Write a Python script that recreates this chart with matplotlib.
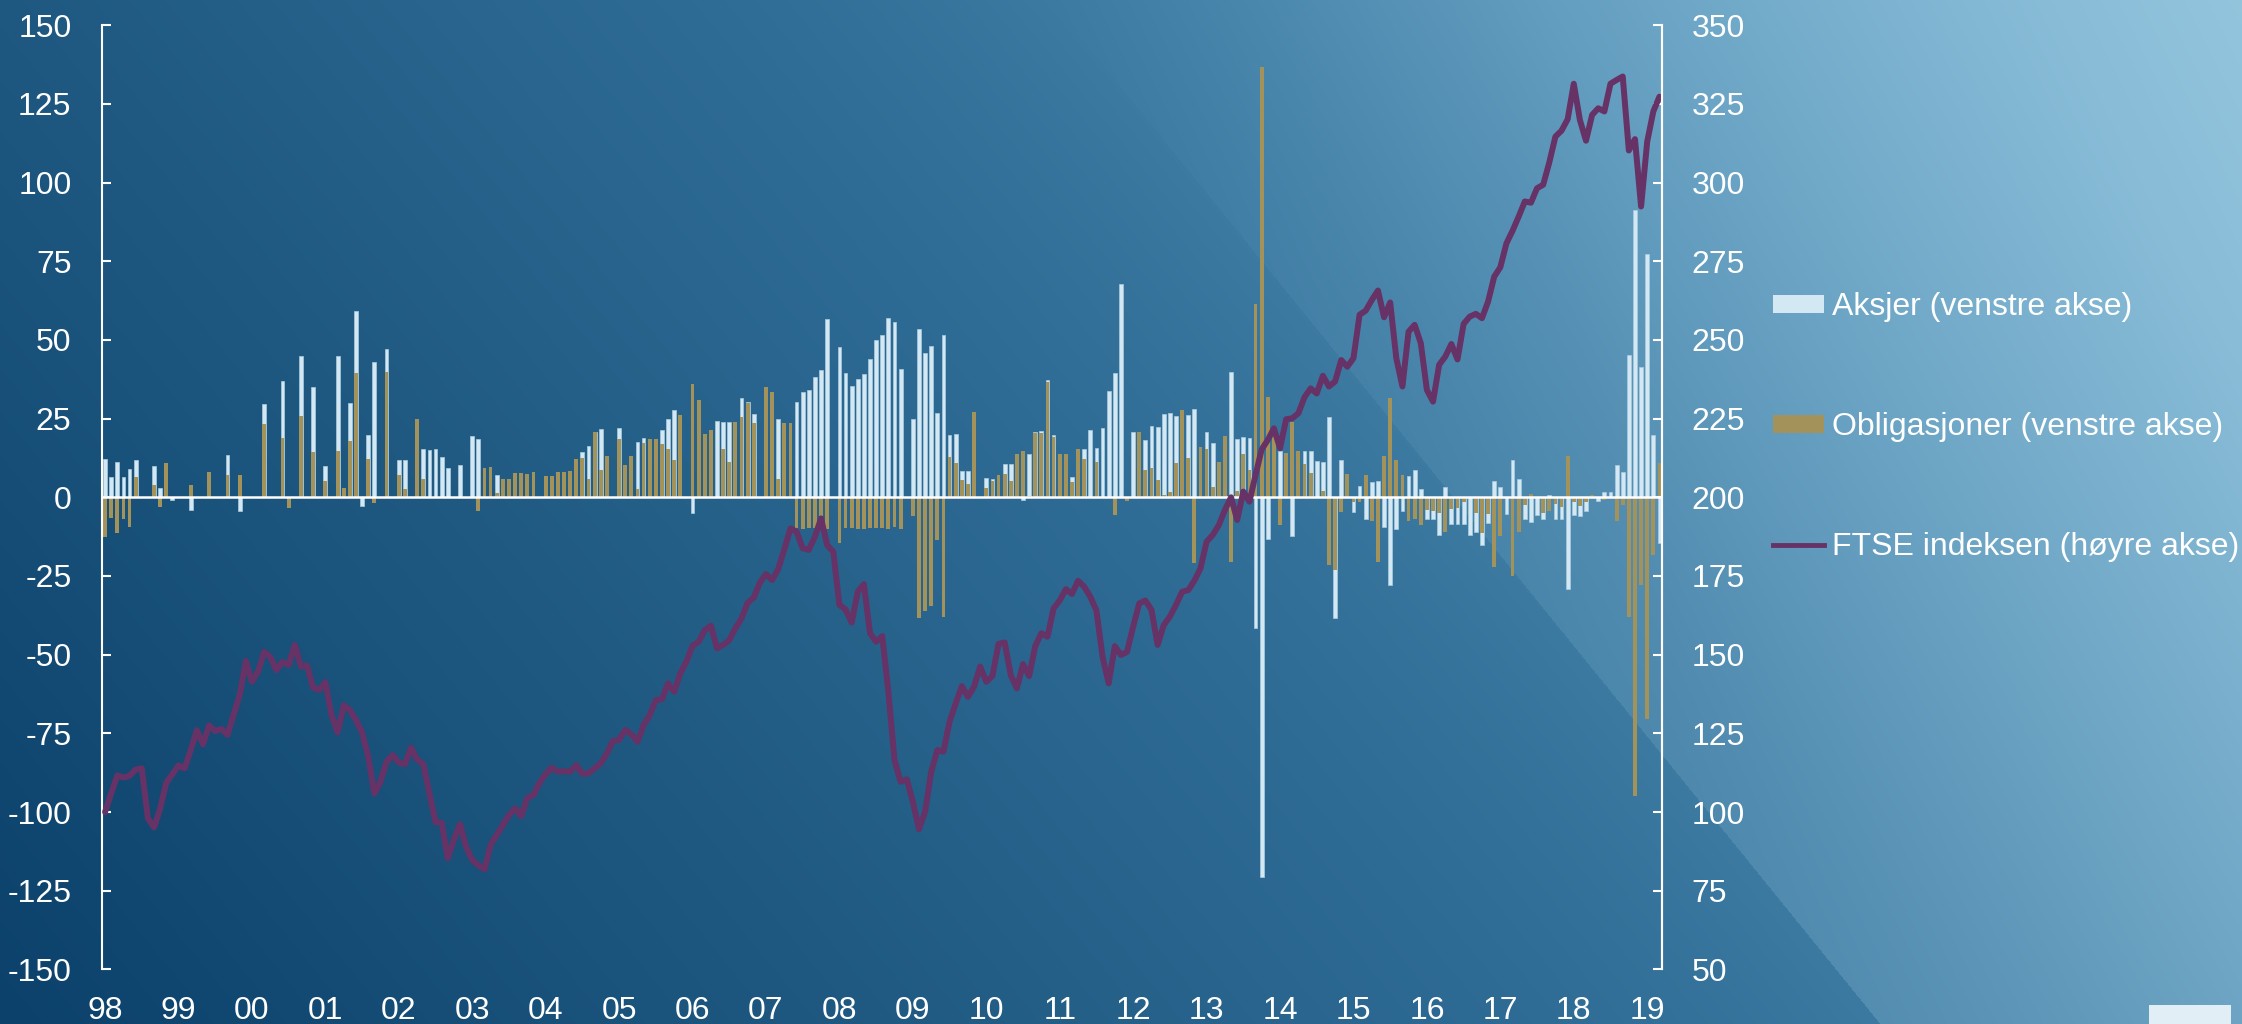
import numpy as np
import matplotlib
matplotlib.use("Agg")
import matplotlib.pyplot as plt
from matplotlib.patches import Patch, Rectangle
from matplotlib.lines import Line2D

plt.rcParams['font.family'] = ['Liberation Sans', 'DejaVu Sans']
plt.rcParams['axes.unicode_minus'] = False

# monthly data, Jan 1998 - Mar 2019 (one row per year)
years = ['98', '99', '00', '01', '02', '03', '04', '05', '06', '07', '08',
         '09', '10', '11', '12', '13', '14', '15', '16', '17', '18', '19']

aksjer = [
    12.2, 6.4, 11.1, 6.6, 9.1, 11.8, 0, 0, 9.9, 2.9, 0, -0.8,
    0, 0, -4.0, 0, 0, 0, 0, 0, 13.3, 0, -4.2, 0,
    0, 0, 29.8, 0, 0, 36.9, 0, 0, 44.9, 0, 35.0, 0,
    9.9, 0, 45.0, 0, 29.9, 59.1, -2.8, 19.8, 42.9, 0, 47.0, 0,
    12.0, 11.7, 0, 0, 15.5, 15.1, 15.4, 12.8, 9.4, 0, 10.2, 0,
    19.6, 18.4, 0, 0, 7.0, 0, 0, 0, 0, 0, 0, 0,
    0, 0, 0, 0, 0, 0, 14.5, 16.4, 20.7, 21.6, 0, 0,
    21.9, 0, 0, 17.5, 18.8, 0, 0, 21.5, 24.8, 27.6, 0, 0,
    -5.1, 0, 0, 0, 24.2, 23.8, 23.8, 0, 31.4, 30.2, 26.4, 0,
    0, 0, 24.8, 0, 0, 30.2, 33.3, 34.0, 38.1, 40.4, 56.6, 0,
    47.7, 39.6, 35.3, 37.5, 39.3, 43.8, 50.1, 51.5, 56.9, 55.6, 40.7, 0,
    25.0, 53.4, 46.0, 48.0, 26.9, 51.5, 19.9, 20.2, 8.3, 8.5, 0, 0,
    6.0, 5.9, 0, 10.6, 10.6, 0, -0.8, 13.9, 20.8, 21.0, 37.4, 19.7,
    0, 0, 6.6, 0, 15.5, 21.5, 15.8, 22.1, 33.8, 39.6, 67.8, 0,
    20.9, 0, 18.1, 22.8, 22.4, 26.6, 26.7, 25.8, 0, 26.2, 27.9, 0,
    20.7, 17.2, 0, 0, 39.8, 18.5, 19.1, 19.0, -41.4, -120.5, -13.2, 0,
    14.6, 0, -12.4, 0, 14.6, 14.8, 11.4, 11.1, 25.4, -38.2, 11.9, 0,
    -4.8, 3.6, -6.9, 4.8, 5.3, -9.3, -27.8, -10.2, -4.2, 6.7, 8.8, 2.5,
    -6.8, -7.0, -11.9, 3.2, -8.4, -8.4, -8.4, -11.9, -11.1, -15.3, -8.3, 5.1,
    3.4, -5.4, 11.9, 5.7, -6.9, -7.7, -5.7, -7.0, 0.8, -7.0, -7.0, -29.0,
    -5.5, -5.9, -4.4, 0, -1.1, 1.7, 1.7, 10.2, 8.1, 45.1, 91.2, 41.3,
    77.2, 19.8, -14.6,
]

obligasjoner = [
    -12.5, -6.6, -11.4, -6.8, -9.4, 6.4, 0, 0, 4.0, -3.0, 10.9, 0,
    0, 0, 3.8, 0, 0, 7.9, 0, 0, 7.0, 0, 7.0, 0,
    0, 0, 23.3, 0, 0, 18.9, -3.3, 0, 25.8, 0, 14.3, 0,
    5.1, 0, 14.7, 2.9, 17.9, 39.5, 0, 12.2, -1.7, 0, 39.8, 0,
    7.0, 2.6, 0, 24.8, 5.7, 0, 0, 0, 0, 0, 0, 0,
    0, -4.2, 9.2, 9.7, 1.3, 5.8, 5.7, 7.8, 7.8, 7.3, 7.9, 0,
    6.8, 6.8, 7.9, 7.9, 8.2, 12.2, 12.6, 5.8, 20.6, 8.7, 13.2, 0,
    18.4, 10.3, 13.2, 2.5, 17.3, 18.4, 18.6, 16.9, 15.5, 11.9, 26.3, 0,
    36.0, 30.9, 20.1, 21.3, 0, 15.3, 11.2, 23.9, 25.5, 30.0, 23.5, 0,
    35.0, 33.3, 5.7, 23.5, 23.5, -9.9, -10.2, -9.9, -9.9, -9.9, -10.2, 0,
    -14.6, -9.9, -9.9, -10.2, -10.2, -9.9, -9.9, -9.9, -10.2, -9.5, -10.2, 0,
    -5.9, -38.2, -36.1, -34.5, -13.7, -37.9, 12.8, 11.0, 5.5, 4.3, 27.2, 0,
    3.0, 5.2, 7.0, 7.5, 5.2, 13.9, 14.6, 0.5, 20.4, 20.4, 36.7, 19.1,
    13.7, 13.7, 4.9, 15.5, 12.1, 0, 11.2, 0, 0, -5.6, 0, -1.1,
    0, 20.7, 8.6, 9.2, 5.5, 0.7, 1.8, 10.9, 27.6, 12.4, -21.0, 16.1,
    15.3, 3.2, 11.2, 19.6, -20.4, 1.9, 13.8, 8.7, 61.4, 136.7, 31.8, 22.8,
    -8.8, 14.1, 23.8, 14.6, 10.5, 7.6, 0, 2.0, -21.6, -23.1, -4.6, 7.4,
    -1.4, -1.6, 7.0, -7.4, -20.4, 13.1, 31.6, 11.9, 7.1, -7.6, -6.9, -8.7,
    -4.0, -4.5, -5.1, -10.9, -3.6, -3.5, -1.5, 0, -4.9, -11.4, -5.4, -22.0,
    -12.3, 0, -24.9, -11.1, -2.5, 1.0, 0, -5.1, -4.2, -2.0, -3.0, 13.2,
    -1.5, -2.8, -1.4, 0.6, 0, -0.8, 0, -7.4, -2.5, -38.1, -95.0, -28.0,
    -70.5, -18.3, 11.0,
]

ftse = [
    100.0, 105.9, 111.6, 111.0, 111.5, 113.5, 113.9, 98.0, 95.1, 101.1, 109.3, 112.0,
    114.8, 113.9, 119.7, 126.0, 121.5, 127.5, 125.7, 126.4, 124.5, 130.8, 137.2, 148.0,
    141.4, 144.6, 150.9, 149.3, 145.1, 147.7, 146.7, 153.1, 146.2, 146.6, 139.5, 138.8,
    141.3, 130.8, 125.3, 133.9, 132.4, 129.2, 125.2, 117.6, 105.9, 109.6, 116.0, 118.1,
    115.7, 115.2, 120.5, 116.7, 115.2, 105.9, 96.8, 96.6, 85.3, 91.1, 96.2, 89.0,
    84.7, 83.1, 81.8, 89.5, 92.7, 95.9, 99.0, 101.2, 98.7, 104.5, 105.4, 109.3,
    112.1, 114.1, 112.8, 113.0, 112.8, 114.9, 112.1, 112.3, 113.9, 115.5, 118.6, 122.6,
    122.9, 126.1, 124.7, 122.3, 127.6, 130.8, 135.6, 135.8, 140.9, 138.2, 144.1, 147.8,
    152.8, 154.1, 157.8, 159.2, 152.0, 153.1, 154.6, 158.4, 161.5, 166.5, 168.1, 172.9,
    175.6, 173.7, 177.2, 183.5, 190.1, 189.1, 183.8, 183.3, 187.5, 193.3, 184.8, 182.7,
    165.8, 164.4, 160.2, 170.0, 172.4, 156.8, 154.1, 155.9, 138.2, 116.5, 109.6, 110.4,
    103.3, 94.5, 100.1, 112.8, 119.7, 119.2, 128.7, 134.5, 140.0, 136.6, 139.8, 146.2,
    141.4, 143.2, 153.4, 153.9, 143.5, 139.3, 147.0, 143.2, 152.7, 156.8, 155.7, 164.7,
    167.2, 170.8, 169.3, 173.5, 171.6, 168.4, 164.0, 149.3, 140.9, 152.7, 149.9, 150.9,
    158.9, 166.3, 167.2, 164.2, 153.1, 159.4, 162.1, 165.8, 170.0, 170.5, 173.5, 177.4,
    185.9, 188.0, 191.2, 196.0, 200.0, 192.8, 201.8, 198.6, 207.1, 215.2, 218.2, 221.9,
    215.6, 224.8, 225.1, 226.7, 231.8, 234.6, 233.0, 238.6, 235.2, 236.8, 243.6, 241.5,
    244.2, 258.0, 259.3, 262.7, 265.7, 257.2, 261.9, 244.2, 235.2, 252.6, 254.8, 249.0,
    234.1, 230.4, 242.1, 244.7, 248.7, 243.8, 255.1, 257.4, 258.3, 256.9, 262.2, 270.1,
    273.1, 280.7, 284.7, 289.2, 294.0, 293.6, 298.2, 299.3, 306.4, 314.6, 316.5, 320.1,
    331.4, 319.9, 313.3, 321.5, 323.6, 322.6, 331.4, 332.6, 333.7, 310.2, 313.8, 292.4,
    313.0, 322.6, 327.3,
]

labels = ['Aksjer (venstre akse)', 'Obligasjoner (venstre akse)', 'FTSE indeksen (høyre akse)']

WHITE_BAR = '#d4e8f4'
GOLD = '#a3925a'
PURPLE = '#673266'

W, H = 2242, 1024
fig = plt.figure(figsize=(W / 100, H / 100), dpi=100)

# background: blue gradient with a lighter diagonal panel on the right
yy, xx = np.mgrid[0:H, 0:W]
s = np.clip(xx / W * 0.8 + (1 - yy / H) * 0.3, 0, 1)
c0 = np.array([11, 65, 106]) / 255
c1 = np.array([76, 143, 184]) / 255
base = c0 + (c1 - c0) * s[..., None]
d = (xx - 1050) * 0.777 - yy * 0.63
soft = 90 * np.log1p(np.exp(np.clip(d / 90, -50, 50)))  # smooth ramp, no crease at top
alpha = np.clip(soft / 1400 + np.where(d > 0, 0.18 * yy / H, 0), 0, 0.8)
light = np.array([184, 224, 240]) / 255
img = base * (1 - alpha[..., None]) + light * alpha[..., None]
bg = fig.add_axes([0, 0, 1, 1], zorder=-10)
bg.imshow(img, aspect='auto', extent=(0, 1, 0, 1), origin='upper')
bg.axis('off')

x = np.arange(len(ftse))

ax = fig.add_axes([102 / W, 1 - 969.4 / H, 1560.5 / W, 944.2 / H])
ax.set_facecolor('none')
ax.bar(x, aksjer, width=0.62, color=WHITE_BAR, edgecolor='#a9cce0', linewidth=0.5, zorder=2)
ax.bar(x, obligasjoner, width=0.62, color=GOLD, zorder=2.1)
ax.axhline(0, color='white', lw=1.8, zorder=3)
ax.set_xlim(-0.5, 254.5)
ax.set_ylim(-150, 150)
ax.set_yticks(range(-150, 151, 25))
ax.set_xticks(range(0, 12 * (len(years) - 1) + 1, 12))
ax.set_xticklabels(years)
ax.tick_params(axis='y', direction='in', length=6.5, width=1.5, colors='white',
               labelsize=23, pad=22)
ax.tick_params(axis='x', length=0, colors='white', labelsize=23, pad=19)
for side in ['top', 'bottom']:
    ax.spines[side].set_visible(False)
for side in ['left', 'right']:
    ax.spines[side].set_color('white')
    ax.spines[side].set_linewidth(1.5)

ax2 = ax.twinx()
ax2.plot(x, ftse, color=PURPLE, lw=4.3, solid_joinstyle='round', solid_capstyle='round')
ax2.set_ylim(50, 350)
ax2.set_yticks(range(50, 351, 25))
ax2.tick_params(axis='y', direction='in', length=6.5, width=1.5, colors='white',
                labelsize=23, pad=21)
for side in ['top', 'bottom', 'left']:
    ax2.spines[side].set_visible(False)
ax2.spines['right'].set_color('white')
ax2.spines['right'].set_linewidth(1.5)

handles = [Patch(facecolor=WHITE_BAR, edgecolor='none', label=labels[0]),
           Patch(facecolor=GOLD, edgecolor='none', label=labels[1]),
           Line2D([], [], color=PURPLE, lw=3.5, label=labels[2])]
fig.legend(handles=handles, loc='upper left', bbox_to_anchor=(1773 / W, 1 - 292 / H),
           frameon=False, fontsize=23, labelcolor='white', handlelength=1.6,
           handleheight=0.5, handletextpad=0.25, labelspacing=2.82,
           borderpad=0, borderaxespad=0)

# small tab in the bottom right corner
fig.patches.append(Rectangle((2149 / W, 0), 82 / W, 19 / H, transform=fig.transFigure,
                             facecolor='#e2eef5', edgecolor='none'))

fig.savefig('out.png', dpi=100)
